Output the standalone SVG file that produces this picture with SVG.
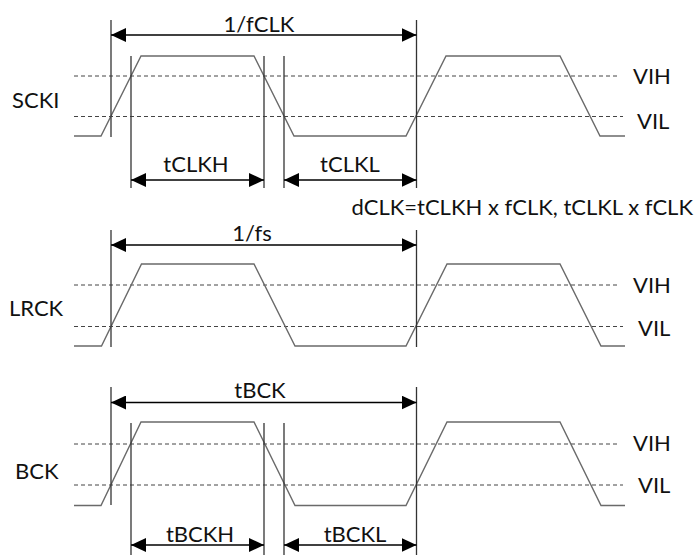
<svg xmlns="http://www.w3.org/2000/svg" width="697" height="559" viewBox="0 0 697 559">
<defs>
<marker id="ah" viewBox="0 0 15 14" refX="15" refY="7" markerWidth="15" markerHeight="14" markerUnits="userSpaceOnUse" orient="auto-start-reverse">
<path d="M0,0 L15,7 L0,14 Z" fill="#000"/>
</marker>
<style>
.wave{fill:none;stroke:#6a6a6a;stroke-width:1.4}
.dash{stroke:#444;stroke-width:1;stroke-dasharray:4,3}
.vl{stroke:#333;stroke-width:1.3}
.arr{stroke:#000;stroke-width:1.3;marker-start:url(#ah);marker-end:url(#ah)}
text{font-family:Lato,"Liberation Sans",Arial,sans-serif;font-size:22px;fill:#111}
.c{text-anchor:middle}
</style>
</defs>
<rect width="697" height="559" fill="#fff"/>

<g id="SCKI">
<line class="dash" x1="74" y1="76" x2="618" y2="76"/>
<line class="dash" x1="74" y1="116.5" x2="623" y2="116.5"/>
<polyline class="wave" points="74,136 101,136 141,56 254,56 294,136 406,136 446,56 560,56 600,136 625,136"/>
<text x="12" y="108">SCKI</text>
<text x="633" y="84">VIH</text>
<text x="637" y="129">VIL</text>
</g>

<g id="LRCK">
<line class="dash" x1="74" y1="285" x2="618" y2="285"/>
<line class="dash" x1="74" y1="326.5" x2="623" y2="326.5"/>
<polyline class="wave" points="74,346 101.5,346 141.5,264 254,264 295,346 406,346 447,264 560,264 601,346 625,346"/>
<text x="9" y="316">LRCK</text>
<text x="633" y="293">VIH</text>
<text x="638" y="336">VIL</text>
</g>

<g id="BCK">
<line class="dash" x1="74" y1="444" x2="618" y2="444"/>
<line class="dash" x1="74" y1="485" x2="623" y2="485"/>
<polyline class="wave" points="74,505.5 101,505.5 141,422 254,422 295,505.5 406,505.5 447,422 560,422 601,505.5 625,505.5"/>
<text x="15" y="479">BCK</text>
<text x="633" y="451">VIH</text>
<text x="638" y="493">VIL</text>
</g>

<g id="connectors">
<line class="vl" x1="111" y1="20" x2="111" y2="137"/>
<line class="vl" x1="131" y1="56" x2="131" y2="188"/>
<line class="vl" x1="264" y1="56" x2="264" y2="188"/>
<line class="vl" x1="284" y1="56" x2="284" y2="188"/>
<line class="vl" x1="416.5" y1="20" x2="416.5" y2="188"/>
<line class="arr" x1="111" y1="35" x2="416.5" y2="35"/>
<line class="arr" x1="131" y1="180" x2="264" y2="180"/>
<line class="arr" x1="284" y1="180" x2="416.5" y2="180"/>

<line class="vl" x1="111" y1="230" x2="111" y2="347"/>
<line class="vl" x1="416.5" y1="230" x2="416.5" y2="347"/>
<line class="arr" x1="111" y1="245" x2="416.5" y2="245"/>

<line class="vl" x1="111" y1="387" x2="111" y2="505"/>
<line class="vl" x1="131" y1="423" x2="131" y2="555"/>
<line class="vl" x1="264" y1="423" x2="264" y2="555"/>
<line class="vl" x1="284" y1="423" x2="284" y2="555"/>
<line class="vl" x1="416.5" y1="387" x2="416.5" y2="555"/>
<line class="arr" x1="111" y1="402.5" x2="416.5" y2="402.5"/>
<line class="arr" x1="131" y1="545" x2="264" y2="545"/>
<line class="arr" x1="284" y1="545" x2="416.5" y2="545"/>
</g>

<g id="labels">
<text class="c" x="259" y="32">1/fCLK</text>
<text class="c" x="196" y="172">tCLKH</text>
<text class="c" x="350" y="172">tCLKL</text>
<text x="693" y="215" text-anchor="end">dCLK=tCLKH x fCLK, tCLKL x fCLK</text>
<text class="c" x="252" y="241">1/fs</text>
<text class="c" x="260" y="398">tBCK</text>
<text class="c" x="200" y="542">tBCKH</text>
<text class="c" x="355" y="542">tBCKL</text>
</g>
</svg>
